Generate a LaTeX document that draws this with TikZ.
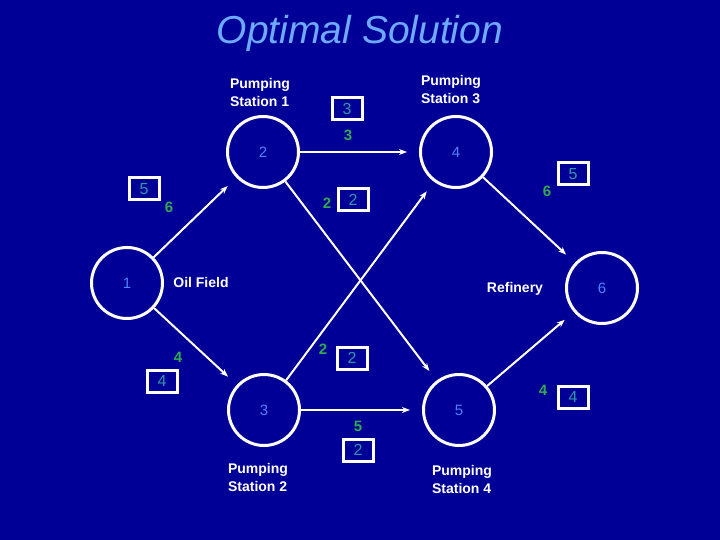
\documentclass[tikz,border=0pt]{standalone}
\usepackage{fontspec}
\setmainfont{Liberation Sans}
\usetikzlibrary{arrows.meta}

\definecolor{bgnavy}{RGB}{0,0,150}
\definecolor{titleblue}{RGB}{110,170,255}
\definecolor{nodeblue}{RGB}{80,130,255}
\definecolor{flowgreen}{RGB}{50,170,80}
\definecolor{capteal}{RGB}{50,150,170}

\begin{document}
\begin{tikzpicture}[x=1pt, y=-1pt, >={Stealth[length=8pt,width=6pt]},
  station/.style={draw=white, circle, line width=3pt, minimum size=71pt, inner sep=0pt,
    text=nodeblue, font=\fontsize{15}{18}\selectfont},
  lbl/.style={text=white, align=left, inner sep=0pt, font=\fontsize{14}{18}\selectfont\bfseries},
  flow/.style={text=flowgreen, inner sep=0pt, font=\fontsize{15}{18}\selectfont\bfseries},
  capbox/.style={draw=white, line width=3pt, minimum width=30pt, minimum height=22pt, inner sep=0pt,
    text=capteal, font=\fontsize{16}{18}\selectfont},
  arr/.style={->, white, line width=2pt, shorten >=12pt}]
  \fill[bgnavy] (0,0) rectangle (720,540);
  \useasboundingbox (0,0) rectangle (720,540);
  \node[text=titleblue, font=\fontsize{39}{46}\selectfont\itshape] (title) at (360,33) {Optimal Solution};
  % stations
  \node[station] (n1) at (127,283) {1};
  \node[station] (n2) at (263,152) {2};
  \node[station] (n3) at (264,410) {3};
  \node[station] (n4) at (456,152) {4};
  \node[station] (n5) at (459,410) {5};
  \node[station] (n6) at (602,288) {6};
  \node[lbl] (l2) at (260,92)  {Pumping\\Station 1};
  \node[lbl] (l4) at (451,90)  {Pumping\\Station 3};
  \node[lbl] (l3) at (258,477) {Pumping\\Station 2};
  \node[lbl] (l5) at (462,479) {Pumping\\Station 4};
  \node[lbl] (l1) at (201,282) {Oil Field};
  \node[lbl] (l6) at (515,289) {Refinery};
  % arcs
  \draw[arr] (n1) -- (n2);
  \draw[arr] (n1) -- (n3);
  \draw[arr] (n2) -- (n4);
  \draw[arr] (n2) -- (n5);
  \draw[arr] (n3) -- (n4);
  \draw[arr] (n3) -- (n5);
  \draw[arr] (n4) -- (n6);
  \draw[arr] (n5) -- (n6);
  % flows and capacities
  \node[flow] (f12) at (169,207) {6};
  \node[capbox] (c12) at (144,189) {5};
  \node[flow] (f13) at (178,357) {4};
  \node[capbox] (c13) at (162,381) {4};
  \node[flow] (f24) at (348,135) {3};
  \node[capbox] (c24) at (347,109) {3};
  \node[flow] (f25) at (327,203) {2};
  \node[capbox] (c25) at (353,200) {2};
  \node[flow] (f34) at (323,349) {2};
  \node[capbox] (c34) at (352,358) {2};
  \node[flow] (f35) at (358,426) {5};
  \node[capbox] (c35) at (358,450) {2};
  \node[flow] (f46) at (547,191) {6};
  \node[capbox] (c46) at (573,174) {5};
  \node[flow] (f56) at (543,390) {4};
  \node[capbox] (c56) at (573,397) {4};
\end{tikzpicture}
\end{document}
